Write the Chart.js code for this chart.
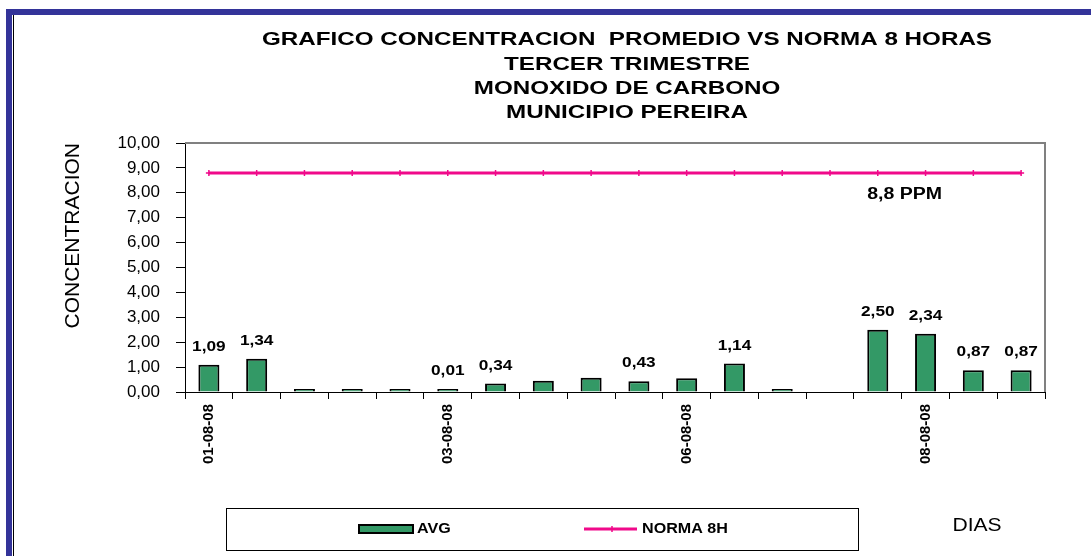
<!DOCTYPE html>
<html>
<head>
<meta charset="utf-8">
<script src="https://cdn.jsdelivr.net/npm/chart.js@4.4.1/dist/chart.umd.min.js"></script>
<style>
  html, body { margin: 0; padding: 0; background: #fff; }
  #wrap { width: 1091px; height: 556px; position: relative; }
</style>
</head>
<body>
<div id="wrap"><canvas id="grafico" width="1091" height="556"></canvas></div>
<script>
// --- datos ---
// categorias del eje X: el original solo rotula una de cada cinco
const categorias = ['01-08-08', '', '', '', '', '03-08-08', '', '', '', '', '06-08-08', '', '', '', '', '08-08-08', '', ''];
// concentracion promedio (AVG)
const promedio = [1.09, 1.34, 0.02, 0.02, 0.02, 0.01, 0.34, 0.45, 0.57, 0.43, 0.55, 1.14, 0.03, null, 2.50, 2.34, 0.87, 0.87];
// norma de 8 horas
const norma8h = [8.8, 8.8, 8.8, 8.8, 8.8, 8.8, 8.8, 8.8, 8.8, 8.8, 8.8, 8.8, 8.8, 8.8, 8.8, 8.8, 8.8, 8.8];
// barras que llevan su valor escrito encima
const conEtiqueta = [true, true, false, false, false, true, true, false, false, true, false, true, false, false, true, true, true, true];

const titulo = [
    'GRAFICO CONCENTRACION  PROMEDIO VS NORMA 8 HORAS',
    'TERCER TRIMESTRE',
    'MONOXIDO DE CARBONO',
    'MUNICIPIO PEREIRA'
];
const tituloEjeY = 'CONCENTRACION';
const tituloEjeX = 'DIAS';
const notaNorma = '8,8 PPM';

const FUENTE = 'Arial, "Liberation Sans", sans-serif';
const VERDE = '#339966';
const ROSA = '#f0098a';

// formato con coma decimal, como en el original
const conComa = v => v.toFixed(2).replace('.', ',');

// texto estirado en horizontal (el original sale ensanchado)
function textoAncho(ctx, texto, x, y, escala) {
    ctx.save();
    ctx.translate(x, y);
    ctx.scale(escala, 1);
    ctx.fillText(texto, 0, 0);
    ctx.restore();
}

// marco azul del documento
const marco = {
    id: 'marco',
    beforeDraw(chart) {
        const ctx = chart.ctx;
        ctx.save();
        ctx.fillStyle = '#fff';
        ctx.fillRect(0, 0, chart.width, chart.height);
        ctx.fillStyle = '#333399';
        ctx.fillRect(6, 9, chart.width - 6, 6);
        ctx.fillRect(6, 9, 6, chart.height - 9);
        ctx.fillStyle = '#000';
        ctx.fillRect(13, 15, 1, chart.height - 15);
        ctx.restore();
    }
};

// borde gris arriba y a la derecha del area de trazado
const bordeArea = {
    id: 'bordeArea',
    beforeDatasetsDraw(chart) {
        const { ctx, chartArea: a } = chart;
        ctx.save();
        ctx.strokeStyle = '#808080';
        ctx.lineWidth = 2;
        ctx.beginPath();
        ctx.moveTo(a.left, a.top);
        ctx.lineTo(a.right, a.top);
        ctx.lineTo(a.right, a.bottom);
        ctx.stroke();
        ctx.restore();
    }
};

// valores sobre las barras y nota de la norma
const etiquetas = {
    id: 'etiquetas',
    afterDatasetsDraw(chart) {
        const ctx = chart.ctx;
        ctx.save();
        ctx.fillStyle = '#000';
        ctx.textAlign = 'center';
        ctx.textBaseline = 'middle';
        ctx.font = 'bold 15px ' + FUENTE;
        chart.getDatasetMeta(0).data.forEach((barra, i) => {
            if (!conEtiqueta[i] || promedio[i] == null) return;
            textoAncho(ctx, conComa(promedio[i]), barra.x, barra.y - 18, 1.15);
        });

        // "8,8 PPM" debajo de la linea, entre el 15 y el 16 punto
        const puntos = chart.getDatasetMeta(1).data;
        const px = (puntos[14].x + puntos[15].x) / 2;
        ctx.font = 'bold 16px ' + FUENTE;
        textoAncho(ctx, notaNorma, px + 3, puntos[14].y + 22, 1.22);
        ctx.restore();
    }
};

// titulo, leyenda en recuadro y rotulo "DIAS"
const tituloYLeyenda = {
    id: 'tituloYLeyenda',
    afterDraw(chart) {
        const ctx = chart.ctx;
        ctx.save();
        ctx.fillStyle = '#000';
        ctx.textBaseline = 'middle';

        // titulo: cuatro lineas centradas
        ctx.textAlign = 'center';
        ctx.font = 'bold 19px ' + FUENTE;
        const ancho = ctx.measureText(titulo[0]).width;
        const escala = 730 / ancho;
        const yTitulo = [40, 65, 89, 113];
        titulo.forEach((linea, i) => textoAncho(ctx, linea, 627, yTitulo[i], escala));

        // recuadro de la leyenda
        ctx.strokeStyle = '#000';
        ctx.lineWidth = 1;
        ctx.strokeRect(226.5, 508.5, 632, 42);

        const ds = chart.data.datasets;
        const yl = 529;
        // AVG
        ctx.fillStyle = ds[0].backgroundColor;
        ctx.fillRect(359, yl - 4, 54, 8);
        ctx.lineWidth = 2;
        ctx.strokeRect(359, yl - 4, 54, 8);
        ctx.fillStyle = '#000';
        ctx.textAlign = 'left';
        ctx.font = 'bold 14px ' + FUENTE;
        textoAncho(ctx, ds[0].label, 417, yl, 1.15);
        // NORMA 8H
        ctx.strokeStyle = ds[1].borderColor;
        ctx.lineWidth = 3;
        ctx.beginPath();
        ctx.moveTo(584, yl);
        ctx.lineTo(637, yl);
        ctx.stroke();
        ctx.lineWidth = 1.5;
        ctx.beginPath();
        ctx.moveTo(612, yl - 3);
        ctx.lineTo(612, yl + 3);
        ctx.stroke();
        textoAncho(ctx, ds[1].label, 642, yl, 1.15);

        // rotulo del eje X
        ctx.textAlign = 'center';
        ctx.font = '18px ' + FUENTE;
        textoAncho(ctx, tituloEjeX, 977, 526, 1.17);
        ctx.restore();
    }
};

new Chart(document.getElementById('grafico'), {
    type: 'bar',
    data: {
        labels: categorias,
        datasets: [
            {
                type: 'bar',
                label: 'AVG',
                data: promedio,
                backgroundColor: VERDE,
                borderColor: '#000',
                borderWidth: 2,
                minBarLength: 3,
                barPercentage: 0.44,
                categoryPercentage: 1,
                order: 2
            },
            {
                type: 'line',
                label: 'NORMA 8H',
                data: norma8h,
                borderColor: ROSA,
                backgroundColor: ROSA,
                borderWidth: 3,
                pointStyle: 'cross',
                pointRadius: 3,
                pointBorderWidth: 1.5,
                pointHoverRadius: 3,
                tension: 0,
                order: 1
            }
        ]
    },
    options: {
        responsive: false,
        animation: false,
        events: [],
        layout: { padding: { top: 143, left: 50, right: 46, bottom: 74 } },
        plugins: {
            legend: { display: false },
            title: { display: false },
            tooltip: { enabled: false }
        },
        scales: {
            x: {
                offset: true,
                grid: { offset: true, drawOnChartArea: false, tickLength: 7, color: '#000' },
                border: { color: '#000', width: 1 },
                ticks: {
                    autoSkip: false,
                    minRotation: 90,
                    maxRotation: 90,
                    padding: 5,
                    color: '#000',
                    font: { family: FUENTE, size: 15, weight: 'bold' }
                },
                afterFit: s => { s.height = 90; }
            },
            y: {
                min: 0,
                max: 10,
                ticks: {
                    stepSize: 1,
                    padding: 16,
                    color: '#000',
                    font: { family: FUENTE, size: 17 },
                    callback: v => conComa(v)
                },
                grid: { drawOnChartArea: false, tickLength: 9, color: '#000' },
                border: { color: '#000', width: 1 },
                title: {
                    display: true,
                    text: tituloEjeY,
                    align: 'end',
                    color: '#000',
                    font: { family: FUENTE, size: 21 },
                    padding: { top: 11, bottom: 0 }
                },
                afterFit: s => { s.width = 135; }
            }
        }
    },
    plugins: [marco, bordeArea, etiquetas, tituloYLeyenda]
});
</script>
</body>
</html>
